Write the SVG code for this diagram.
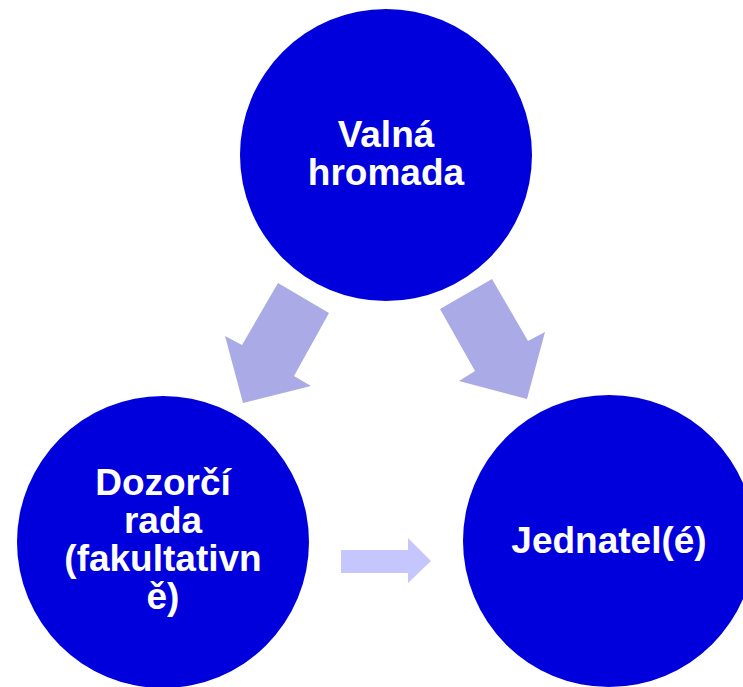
<svg xmlns="http://www.w3.org/2000/svg" width="743" height="687" viewBox="0 0 743 687">
<style>
.node{fill:#0000DC}
.lbl{fill:#fff;font-family:"Liberation Sans",Arial,sans-serif;font-weight:bold;font-size:37px;text-anchor:middle}
.arr{fill:#AAAAE6}
.arr2{fill:#C6C6FF}
</style>
<rect width="743" height="687" fill="#fff"/>
<g id="connectors">
<polygon class="arr" points="278,283 329,313 294,376 311,386 243,403 225,336 242,345"/>
<polygon class="arr" points="440,309 492,279 528,341 545,332 527,399 459,381 475,371"/>
<polygon class="arr2" points="341,550 408,550 408,538 431,561 408,583 408,573 341,573"/>
</g>
<g id="valna">
<circle class="node" cx="386" cy="155" r="146"/>
<text class="lbl" x="386" y="147">Valná</text>
<text class="lbl" x="386" y="185">hromada</text>
</g>
<g id="dozorci">
<circle class="node" cx="163" cy="542" r="146"/>
<text class="lbl" x="163" y="495">Dozorčí</text>
<text class="lbl" x="163" y="533">rada</text>
<text class="lbl" x="163" y="571">(fakultativn</text>
<text class="lbl" x="163" y="609">ě)</text>
</g>
<g id="jednatel">
<circle class="node" cx="609" cy="541" r="146"/>
<text class="lbl" x="609" y="553">Jednatel(é)</text>
</g>
</svg>
